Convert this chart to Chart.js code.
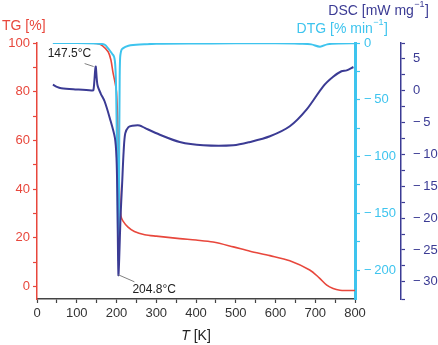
<!DOCTYPE html>
<html>
<head>
<meta charset="utf-8">
<script src="https://cdn.jsdelivr.net/npm/chart.js@4.4.0/dist/chart.umd.min.js"></script>
<style>
  html, body { margin: 0; padding: 0; background: #fff; }
  #wrap { width: 438px; height: 345px; }
</style>
</head>
<body>
<div id="wrap"><canvas id="grafico" width="438" height="345"></canvas></div>
<script>
// Datos (T en K)
const tgTemp = [40, 100, 140, 154, 165, 179, 186, 191, 196, 200, 203, 205, 207, 209, 211, 216, 229, 245, 271, 300, 359, 400, 443, 494, 536, 586, 636, 686, 710, 729, 745, 762, 780, 800];
const tgVal = [100, 100, 99.9, 99.7, 98.8, 96.4, 93, 88, 84, 80, 68, 55, 42, 33, 29, 27, 24.4, 22.6, 21.3, 20.7, 19.7, 19.1, 18.3, 16.3, 14.5, 12.7, 10.6, 6.8, 3.6, 0.6, -0.8, -1.5, -1.6, -1.6];

const dtgTemp = [40, 100, 150, 170, 179, 190, 196, 199, 202, 204, 205, 206, 207, 208, 210, 216, 230, 270, 300, 400, 500, 600, 660, 690, 712, 730, 760, 800];
const dtgVal = [0, 0, -0.5, -1.5, -4.7, -10, -16, -40, -110, -175, -192, -150, -80, -30, -10, -4.7, -2.5, -1.2, -0.6, -0.4, -0.3, -0.3, -0.6, -1.2, -3.2, -1.2, -0.4, -0.3];

const dscTemp = [40, 50, 61, 100, 137, 142, 147.5, 152, 160, 170, 183, 196, 200, 202, 204.8, 207, 210, 214, 218, 222, 230, 240, 258, 271, 309, 359, 418, 494, 536, 586, 636, 678, 720, 745, 766, 779, 796];
const dscVal = [0.95, 0.6, 0.4, 0.2, 0.05, 0.1, 3.8, 0.95, -0.4, -1.65, -4.27, -7.41, -10.6, -16, -28.9, -26, -20, -14.8, -9.5, -6.7, -5.7, -5.5, -5.45, -5.84, -6.9, -8.04, -8.56, -8.56, -8.04, -7.15, -5.58, -2.97, 0.7, 2.2, 3.06, 3.2, 3.73];

// Marcas de los ejes
const xTicks = [0, 50, 100, 150, 200, 250, 300, 350, 400, 450, 500, 550, 600, 650, 700, 750, 800];
const tgTicks = [0, 10, 20, 30, 40, 50, 60, 70, 80, 90, 100];
const dtgTicks = [0, -25, -50, -75, -100, -125, -150, -175, -200];
const dscTicks = [5, 2.5, 0, -2.5, -5, -7.5, -10, -12.5, -15, -17.5, -20, -22.5, -25, -27.5, -30];

// Picos anotados
const picos = [
    { t: 147.5, v: 3.8, texto: '147.5°C' },
    { t: 204.8, v: -28.9, texto: '204.8°C' }
];

const rojo = '#e8473c';
const cian = '#3ec4ee';
const azul = '#3b3b94';
const fuente = "'Liberation Sans', Arial, sans-serif";

Chart.defaults.font.family = fuente;

function puntos(xs, ys) {
    return xs.map((x, i) => ({ x: x, y: ys[i] }));
}

function menos(v) {
    return v < 0 ? '\u2212\u2009' + (-v) : String(v);
}

// Texto con exponente (ej. mg^-1)
function escribir(ctx, x, y, base, exp, fin, color) {
    ctx.font = '14px ' + fuente;
    const w1 = ctx.measureText(base).width;
    const w3 = ctx.measureText(fin).width;
    ctx.font = '9px ' + fuente;
    const w2 = ctx.measureText(exp).width;
    const x0 = x - (w1 + w2 + w3);
    ctx.fillStyle = color;
    ctx.textAlign = 'left';
    ctx.textBaseline = 'middle';
    ctx.font = '14px ' + fuente;
    ctx.fillText(base, x0, y);
    ctx.font = '9px ' + fuente;
    ctx.fillText(exp, x0 + w1 + 0.5, y - 6);
    ctx.font = '14px ' + fuente;
    ctx.fillText(fin, x0 + w1 + w2 + 1, y);
}

const textos = {
    id: 'textos',
    afterDraw(chart) {
        const ctx = chart.ctx;
        const sx = chart.scales.x;
        const sd = chart.scales.yDSC;
        ctx.save();
        // titulos de ejes
        ctx.textAlign = 'left';
        ctx.textBaseline = 'middle';
        ctx.fillStyle = rojo;
        ctx.font = '14px ' + fuente;
        ctx.fillText('TG [%]', 2, 26);
        escribir(ctx, 428, 11, 'DSC [mW mg', '\u22121', ']', azul);
        escribir(ctx, 387, 29, 'DTG [% min', '\u22121', ']', cian);

        ctx.fillStyle = '#222';
        ctx.font = 'italic 14px ' + fuente;
        const wT = ctx.measureText('T').width;
        ctx.font = '14px ' + fuente;
        const wK = ctx.measureText(' [K]').width;
        const cx = (sx.left + sx.right) / 2 - (wT + wK) / 2;
        ctx.font = 'italic 14px ' + fuente;
        ctx.fillText('T', cx, 336);
        ctx.font = '14px ' + fuente;
        ctx.fillText(' [K]', cx + wT, 336);

        // anotaciones de los picos
        ctx.strokeStyle = '#808080';
        ctx.lineWidth = 1;
        ctx.font = '12px ' + fuente;
        ctx.fillStyle = '#222';
        const p1 = picos[0];
        const x1 = sx.getPixelForValue(p1.t), y1 = sd.getPixelForValue(p1.v);
        ctx.beginPath();
        ctx.moveTo(x1 - 11, y1 - 3);
        ctx.lineTo(x1 - 2, y1);
        ctx.stroke();
        ctx.fillText(p1.texto, x1 - 48, y1 - 13);
        const p2 = picos[1];
        const x2 = sx.getPixelForValue(p2.t), y2 = sd.getPixelForValue(p2.v);
        ctx.beginPath();
        ctx.moveTo(x2, y2);
        ctx.lineTo(x2 + 16, y2 + 7);
        ctx.stroke();
        ctx.fillText(p2.texto, x2 + 14, y2 + 15);
        ctx.restore();
    }
};

function ejeY(color, ancho, bordeAncho, largoMarca) {
    return {
        grid: { display: true, drawOnChartArea: false, drawTicks: true, tickLength: largoMarca, tickColor: color, tickWidth: 1.2 },
        border: { display: true, color: color, width: bordeAncho },
        afterFit: function(scale) { scale.width = ancho; }
    };
}

const ctx = document.getElementById('grafico').getContext('2d');
const chart = new Chart(ctx, {
    type: 'line',
    data: {
        datasets: [
            {
                label: 'DSC',
                data: puntos(dscTemp, dscVal),
                yAxisID: 'yDSC',
                borderColor: azul,
                borderWidth: 2,
                pointRadius: 0,
                tension: 0.3,
                order: 0
            },
            {
                label: 'DTG',
                data: puntos(dtgTemp, dtgVal),
                yAxisID: 'yDTG',
                borderColor: cian,
                borderWidth: 2,
                pointRadius: 0,
                cubicInterpolationMode: 'monotone',
                order: 1
            },
            {
                label: 'TG',
                data: puntos(tgTemp, tgVal),
                yAxisID: 'yTG',
                borderColor: rojo,
                borderWidth: 1.6,
                pointRadius: 0,
                tension: 0.3,
                order: 2
            }
        ]
    },
    options: {
        responsive: false,
        animation: false,
        layout: { padding: { top: 43, left: 0, right: 0, bottom: 0 } },
        plugins: {
            legend: { display: false },
            tooltip: { enabled: false }
        },
        scales: {
            x: {
                type: 'linear',
                position: 'bottom',
                min: 0,
                max: 800,
                afterBuildTicks: s => { s.ticks = xTicks.map(v => ({ value: v })); },
                afterFit: s => { s.height = 46; },
                grid: { display: true, drawOnChartArea: false, tickLength: 4, tickColor: '#444', tickWidth: 1.2 },
                border: { display: true, color: '#444', width: 1.5 },
                ticks: {
                    autoSkip: false,
                    maxRotation: 0,
                    color: '#333',
                    font: { size: 13 },
                    padding: 3,
                    callback: v => (v % 100 === 0 ? String(v) : '')
                }
            },
            yTG: Object.assign(ejeY(rojo, 37, 1.5, 4), {
                type: 'linear',
                position: 'left',
                min: -5.1,
                max: 100,
                afterBuildTicks: s => { s.ticks = tgTicks.map(v => ({ value: v })); },
                ticks: {
                    autoSkip: false,
                    color: rojo,
                    font: { size: 13 },
                    padding: 3,
                    callback: v => (v % 20 === 0 ? String(v) : '')
                }
            }),
            yDTG: Object.assign(ejeY(cian, 46, 3, 5), {
                type: 'linear',
                position: 'right',
                weight: 0,
                min: -225.4,
                max: 0,
                afterBuildTicks: s => { s.ticks = dtgTicks.map(v => ({ value: v })); },
                ticks: {
                    autoSkip: false,
                    color: cian,
                    font: { size: 13 },
                    padding: 4,
                    callback: v => (v % 50 === 0 ? menos(v) : '')
                }
            }),
            yDSC: Object.assign(ejeY(azul, 37, 1.5, 4), {
                type: 'linear',
                position: 'right',
                weight: 1,
                min: -32.7,
                max: 7.5,
                afterBuildTicks: s => {
                    s.ticks = [s.max].concat(dscTicks, [s.min]).map(v => ({ value: v }));
                },
                ticks: {
                    autoSkip: false,
                    color: azul,
                    font: { size: 13 },
                    padding: 8,
                    callback: v => (v % 5 === 0 ? menos(v) : '')
                }
            })
        }
    },
    plugins: [textos]
});
</script>
</body>
</html>
